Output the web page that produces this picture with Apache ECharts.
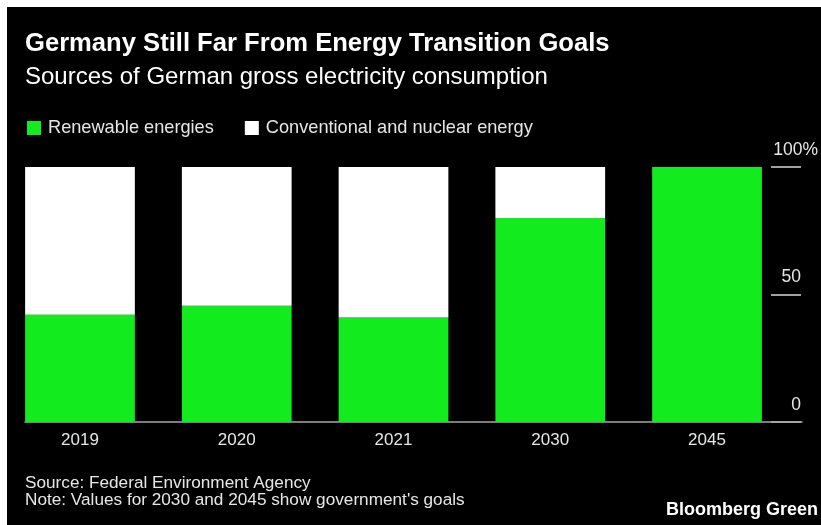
<!DOCTYPE html>
<html>
<head>
<meta charset="utf-8">
<script src="https://cdn.jsdelivr.net/npm/echarts@6/dist/echarts.min.js"></script>
<style>
  html, body { margin: 0; padding: 0; background: #fff; }
  #chart { width: 821px; height: 525px; }
</style>
</head>
<body>
<div id="chart"></div>
<script>
const categories = ['2019', '2020', '2021', '2030', '2045'];
const renewable = [42.1, 45.6, 41.0, 80, 100];
const conventional = [57.9, 54.4, 59.0, 20, 0];
const yTicks = [0, 50, 100];

const FONT = "'Liberation Sans', Arial, sans-serif";
const GREEN = '#12ec1f';

const chart = echarts.init(document.getElementById('chart'), null, { renderer: 'canvas' });

const option = {
  backgroundColor: '#000',
  animation: false,
  graphic: [
    { type: 'rect', left: 0, top: 0, shape: { width: 821, height: 7 }, style: { fill: '#fff' }, silent: true },
    { type: 'rect', left: 0, top: 0, shape: { width: 7, height: 525 }, style: { fill: '#fff' }, silent: true }
  ],
  title: [
    { text: 'Germany Still Far From Energy Transition Goals', left: 25, top: 31, padding: 0,
      textStyle: { color: '#fff', fontFamily: FONT, fontWeight: 'bold', fontSize: 25.6 } },
    { text: 'Sources of German gross electricity consumption', left: 25, top: 65, padding: 0,
      textStyle: { color: '#fff', fontFamily: FONT, fontWeight: 'normal', fontSize: 24 } },
    { text: 'Source: Federal Environment Agency\nNote: Values for 2030 and 2045 show government\'s goals', left: 25, top: 475, padding: 0,
      textStyle: { color: '#e6e6e6', fontFamily: FONT, fontWeight: 'normal', fontSize: 17.2, lineHeight: 17 } },
    { text: 'Bloomberg Green', right: 3, top: 501, padding: 0,
      textStyle: { color: '#fff', fontFamily: FONT, fontWeight: 'bold', fontSize: 18 } }
  ],
  legend: {
    left: 27, top: 119, padding: 0,
    icon: 'rect', itemWidth: 14, itemHeight: 14, itemGap: 31,
    textStyle: { color: '#e6e6e6', fontFamily: FONT, fontSize: 18.2, padding: [0, 0, 0, 2] },
    data: ['Renewable energies', 'Conventional and nuclear energy']
  },
  grid: [
    { left: 1.6, right: 35.6, top: 167, bottom: 103 },
    { left: 25, right: 19, top: 167, bottom: 103 },
    { left: 771, right: 19, top: 167, bottom: 103 }
  ],
  xAxis: [
    { type: 'category', gridIndex: 0, data: categories,
      axisLine: { show: false }, axisTick: { show: false },
      axisLabel: { color: '#e6e6e6', fontFamily: FONT, fontSize: 17, margin: 10 } },
    { type: 'value', gridIndex: 1, min: 0, max: 1,
      axisLine: { show: true, lineStyle: { color: '#a6a6a6', width: 1.5 } },
      axisTick: { show: false }, axisLabel: { show: false }, splitLine: { show: false } },
    { type: 'value', gridIndex: 2, min: 0, max: 1, show: false }
  ],
  yAxis: [
    { type: 'value', gridIndex: 0, min: 0, max: 100, show: false },
    { type: 'value', gridIndex: 1, min: 0, max: 100, show: false },
    { type: 'value', gridIndex: 2, position: 'right', min: 0, max: 100, interval: 50,
      axisLine: { show: false }, axisTick: { show: false },
      splitLine: { show: true, lineStyle: { color: '#d6d6d6', width: 1.5 } },
      axisLabel: { inside: true, margin: 0, align: 'right', verticalAlign: 'bottom', padding: [0, 0, 8, 0],
        color: '#e6e6e6', fontFamily: FONT, fontSize: 17.5,
        formatter: v => (yTicks.indexOf(v) >= 0 && v !== 100) ? String(v) : '' } },
    { type: 'value', gridIndex: 2, position: 'right', offset: 17, min: 0, max: 100, interval: 50,
      axisLine: { show: false }, axisTick: { show: false }, splitLine: { show: false },
      axisLabel: { inside: true, margin: 0, align: 'right', verticalAlign: 'bottom', padding: [0, 0, 8, 0],
        color: '#e6e6e6', fontFamily: FONT, fontSize: 17.5,
        formatter: v => v === 100 ? '100%' : '' } }
  ],
  series: [
    { name: 'Renewable energies', type: 'bar', stack: 'total', xAxisIndex: 0, yAxisIndex: 0,
      barWidth: '70%', data: renewable, itemStyle: { color: GREEN } },
    { name: 'Conventional and nuclear energy', type: 'bar', stack: 'total', xAxisIndex: 0, yAxisIndex: 0,
      barWidth: '70%', data: conventional, itemStyle: { color: '#fff' } }
  ]
};

chart.setOption(option);
</script>
</body>
</html>
